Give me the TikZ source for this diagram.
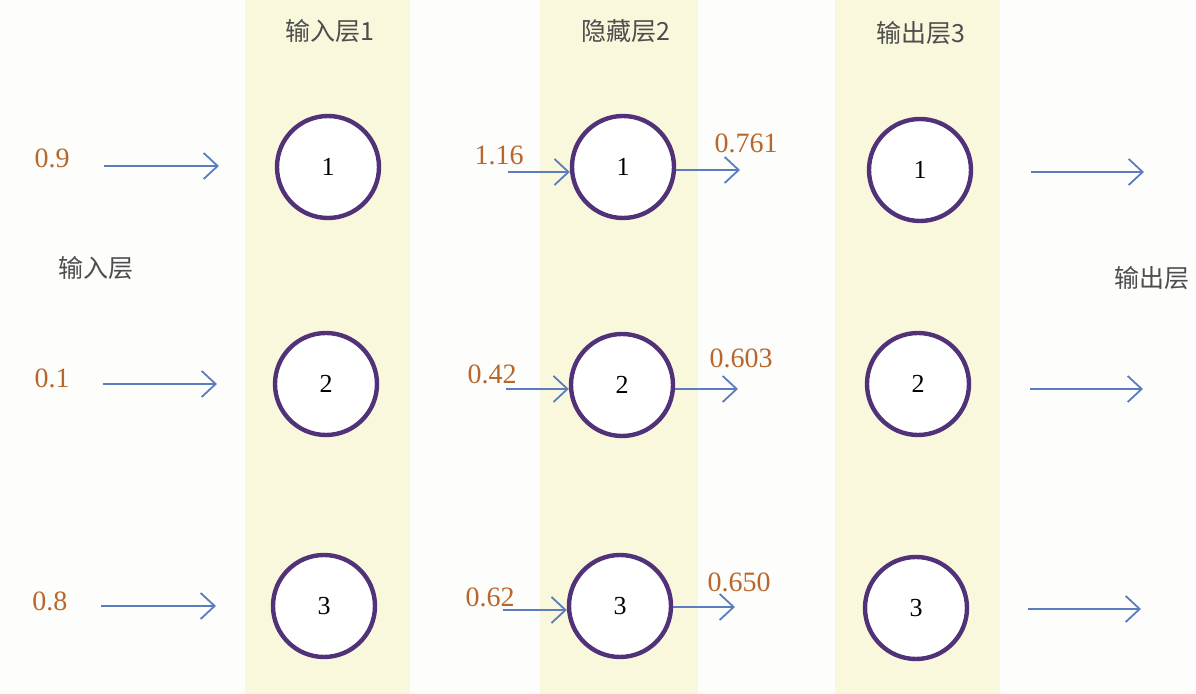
\documentclass[tikz,border=0pt]{standalone}
\usepackage{fontspec}
\setmainfont{Liberation Serif}
\newfontfamily\cjk{Noto Sans CJK SC}
\usetikzlibrary{arrows.meta}
\definecolor{paper}{HTML}{FDFDFB}
\definecolor{bandY}{HTML}{FAF8DC}
\definecolor{ring}{HTML}{513178}
\definecolor{pen}{HTML}{5B7DBF}
\definecolor{numc}{HTML}{B8672C}
\definecolor{labc}{HTML}{4D4D4D}
\tikzset{
  neuron/.style={circle, draw=ring, line width=2.2pt, minimum size=51pt, inner sep=0pt, fill=white,
    font=\fontsize{13}{15}\selectfont},
  val/.style={text=numc, font=\fontsize{14}{16}\selectfont, inner sep=1pt},
  layer/.style={text=labc, font=\cjk\fontsize{12.5}{14}\selectfont, inner sep=1pt},
  arr/.style={draw=pen, line width=0.9pt, -{Straight Barb[length=7pt,width=13pt,line width=0.9pt]}},
}
\begin{document}
\begin{tikzpicture}[x=0.5pt,y=-0.5pt]
\useasboundingbox (0,0) rectangle (1196,694);
\fill[paper] (0,0) rectangle (1196,694);
\fill[bandY] (245,0) rectangle (410,694);
\fill[bandY] (540,0) rectangle (698,694);
\fill[bandY] (835,0) rectangle (1000,694);

% layer headers
\node[layer] (t1) at (330,31) {输入层1};
\node[layer] (t2) at (626,31) {隐藏层2};
\node[layer] (t3) at (921,33) {输出层3};
\node[layer] (tin) at (96,268) {输入层};
\node[layer] (tout) at (1152,278) {输出层};

% neurons
\node[neuron] (a1) at (328,167) {1};
\node[neuron] (a2) at (326,384) {2};
\node[neuron] (a3) at (324,606) {3};
\node[neuron] (b1) at (623,167) {1};
\node[neuron] (b2) at (622,385) {2};
\node[neuron] (b3) at (620,606) {3};
\node[neuron] (c1) at (920,170) {1};
\node[neuron] (c2) at (918,384) {2};
\node[neuron] (c3) at (916,608) {3};

% input values
\node[val] (v1) at (52,158) {0.9};
\node[val] (v2) at (52,378) {0.1};
\node[val] (v3) at (50,601) {0.8};
\node[val] (w1) at (499,155) {1.16};
\node[val] (w2) at (492,374) {0.42};
\node[val] (w3) at (490,597) {0.62};
\node[val] (u1) at (746,143) {0.761};
\node[val] (u2) at (741,358) {0.603};
\node[val] (u3) at (739,582) {0.650};

% coordinates for free arrow ends
\coordinate (p1s) at (104,166); \coordinate (p1e) at (219,166);
\coordinate (p2s) at (103,384); \coordinate (p2e) at (217,384);
\coordinate (p3s) at (101,606); \coordinate (p3e) at (216,606);
\coordinate (q1s) at (508,172);
\coordinate (q2s) at (506,389);
\coordinate (q3s) at (503,610);
\coordinate (r1e) at (740,170);
\coordinate (r2e) at (738,389);
\coordinate (r3e) at (735,607);
\coordinate (s1s) at (1031,172); \coordinate (s1e) at (1144,172);
\coordinate (s2s) at (1030,389); \coordinate (s2e) at (1143,389);
\coordinate (s3s) at (1028,609); \coordinate (s3e) at (1141,609);

% arrows
\draw[arr] (p1s) -- (p1e);
\draw[arr] (p2s) -- (p2e);
\draw[arr] (p3s) -- (p3e);
\draw[arr] (q1s) -- (q1s -| b1.west);
\draw[arr] (q2s) -- (q2s -| b2.west);
\draw[arr] (q3s) -- (q3s -| b3.west);
\draw[arr] (b1.east |- r1e) -- (r1e);
\draw[arr] (b2.east |- r2e) -- (r2e);
\draw[arr] (b3.east |- r3e) -- (r3e);
\draw[arr] (s1s) -- (s1e);
\draw[arr] (s2s) -- (s2e);
\draw[arr] (s3s) -- (s3e);
\end{tikzpicture}
\end{document}
